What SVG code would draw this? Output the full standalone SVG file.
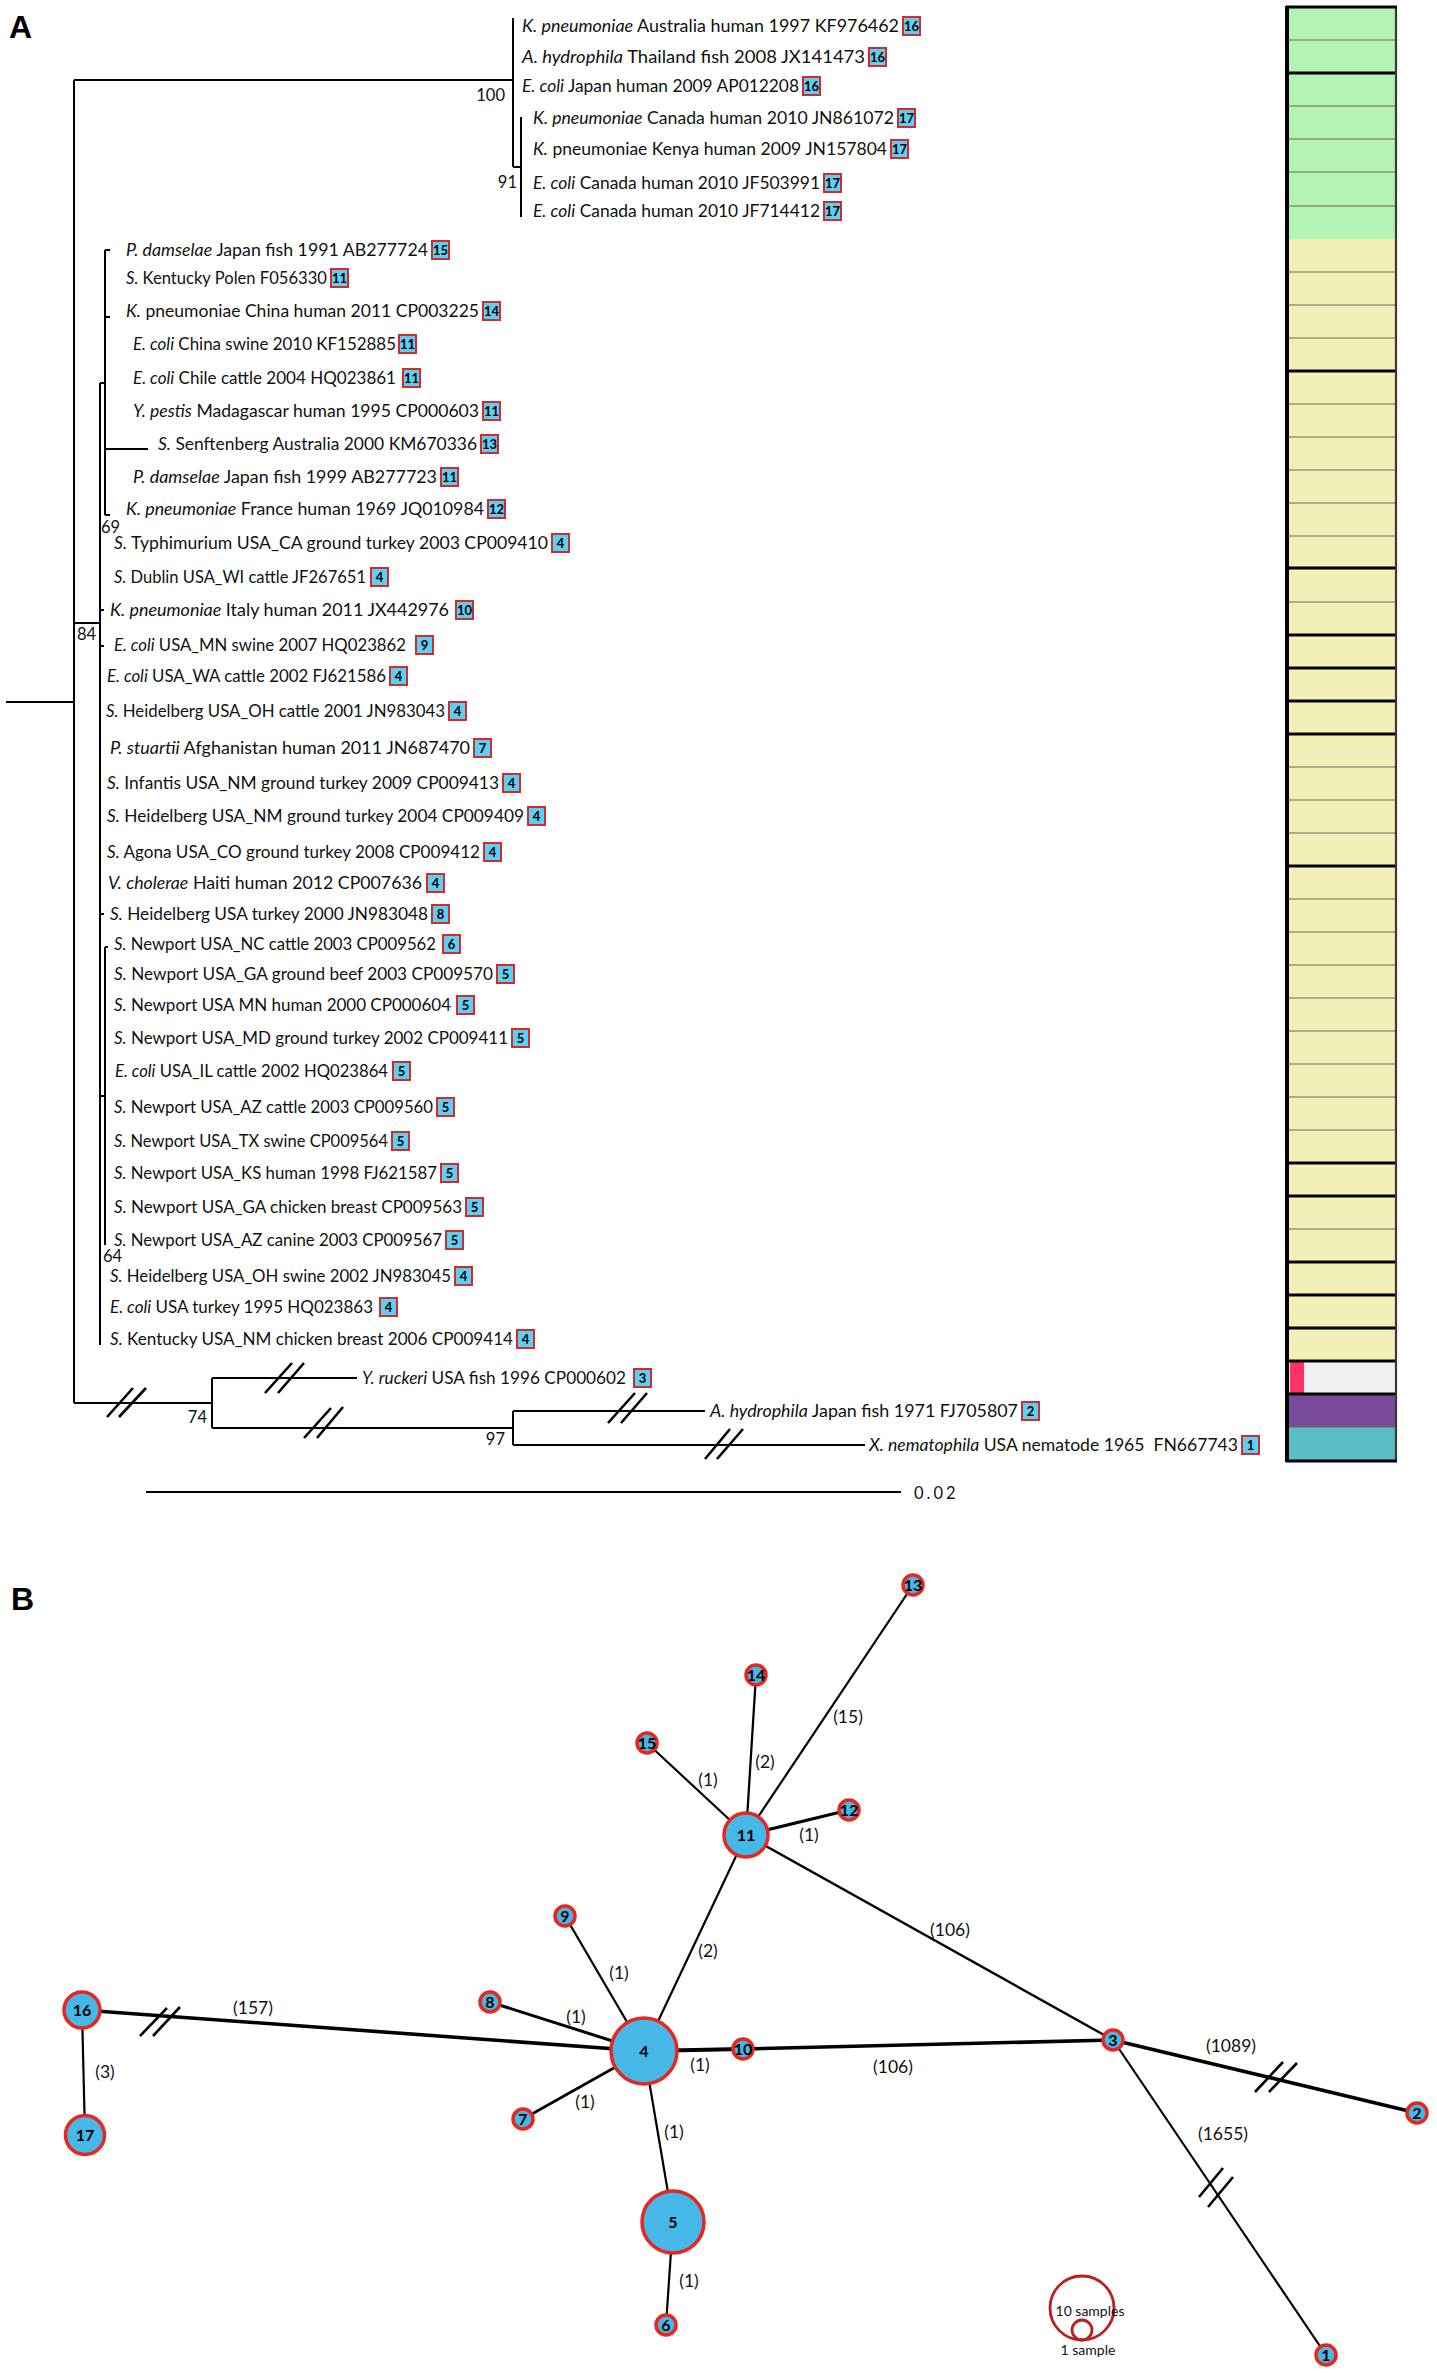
<svg xmlns="http://www.w3.org/2000/svg" width="1437" height="2374" viewBox="0 0 1437 2374">
<style>
.lab{font-family:Lato,"Liberation Sans",sans-serif;font-size:17.5px;fill:#111}
.it{font-style:italic}
.sup{font-family:Lato,"Liberation Sans",sans-serif;font-size:16.5px;fill:#111}
.panel{font-family:"Liberation Sans",Arial,sans-serif;font-size:32px;font-weight:bold;fill:#000}
.box{fill:#5ccff2;stroke:#d42a2a;stroke-width:2}
.bn{font-family:Lato,"Liberation Sans",sans-serif;font-size:13px;font-weight:bold;fill:#000;text-anchor:middle}
.br{stroke:#000;stroke-width:2;fill:none}
.sl{stroke:#000;stroke-width:2.6;fill:none}
.nd{fill:#45b8e8;stroke:#e8261f;stroke-width:3.5}
.nl{font-family:Lato,"Liberation Sans",sans-serif;font-size:16px;font-weight:bold;fill:#000;text-anchor:middle}
.el{font-family:Lato,"Liberation Sans",sans-serif;font-size:17.5px;fill:#111;text-anchor:middle}
.e{stroke:#000;fill:none}
.sep{stroke:#6b6b50;stroke-width:1.2}
.sepk{stroke:#000;stroke-width:3}
</style>

<!-- Panel labels -->
<text class="panel" x="9" y="38">A</text>
<text class="panel" x="11" y="1610">B</text>

<!-- Tree branches -->
<g id="tree-connectors">
  <path class="br" d="M6,702 H74 M74,80 V1403 M74,80 H513 M513,18 V167 M513,167 H521 M521,117 V217"/>
  <path class="br" d="M74,623 H100 M100,383 V1345 M100,383 H105 M105,250 V515 M105,250 H110 M105,317 H110 M105,449 H148 M105,515 H110"/>
  <path class="br" d="M100,610 H104 M100,646 H104 M100,914 H104 M100,1096 H105 M105,947 V1245 M105,947 H108"/>
  <path class="br" d="M74,1403 H212 M212,1378 V1428 M212,1378 H357 M212,1428 H513 M513,1411 V1445 M513,1411 H705 M513,1445 H865"/>
  <!-- break marks -->
  <path class="sl" d="M107,1417 L133,1388 M119,1417 L146,1388"/>
  <path class="sl" d="M265,1393 L292,1363 M278,1393 L304,1363"/>
  <path class="sl" d="M304,1438 L331,1408 M317,1438 L343,1407"/>
  <path class="sl" d="M608,1423 L635,1393 M621,1423 L647,1393"/>
  <path class="sl" d="M705,1459 L730,1429 M717,1459 L743,1429"/>
  <!-- scale bar -->
  <path class="br" d="M146,1492 H901"/>
</g>

<!-- support values -->
<g id="support">
  <text class="sup" x="505" y="101" text-anchor="end">100</text>
  <text class="sup" x="517" y="188" text-anchor="end">91</text>
  <text class="sup" x="77" y="640">84</text>
  <text class="sup" x="101" y="533">69</text>
  <text class="sup" x="103" y="1262">64</text>
  <text class="sup" x="207" y="1423" text-anchor="end">74</text>
  <text class="sup" x="505" y="1445" text-anchor="end">97</text>
  <text class="sup" x="914" y="1499" letter-spacing="3">0.02</text>
</g>

<!-- Leaves -->
<g id="leaves">
<g id="leaf-1"><text class="lab" x="522" y="32" textLength="377" lengthAdjust="spacingAndGlyphs"><tspan class="it">K. pneumoniae</tspan> Australia human 1997 KF976462</text><rect class="box" x="903" y="17" width="17" height="18"/><text class="bn" x="911.5" y="30.5">16</text></g>
<g id="leaf-2"><text class="lab" x="522" y="63" textLength="343" lengthAdjust="spacingAndGlyphs"><tspan class="it">A. hydrophila</tspan> Thailand fish 2008 JX141473</text><rect class="box" x="869" y="48" width="17" height="18"/><text class="bn" x="877.5" y="61.5">16</text></g>
<g id="leaf-3"><text class="lab" x="522" y="92" textLength="277" lengthAdjust="spacingAndGlyphs"><tspan class="it">E. coli</tspan> Japan human 2009 AP012208</text><rect class="box" x="803" y="77" width="17" height="18"/><text class="bn" x="811.5" y="90.5">16</text></g>
<g id="leaf-4"><text class="lab" x="533" y="124" textLength="361" lengthAdjust="spacingAndGlyphs"><tspan class="it">K. pneumoniae</tspan> Canada human 2010 JN861072</text><rect class="box" x="898" y="109" width="17" height="18"/><text class="bn" x="906.5" y="122.5">17</text></g>
<g id="leaf-5"><text class="lab" x="533" y="155" textLength="354" lengthAdjust="spacingAndGlyphs"><tspan class="it">K.</tspan> pneumoniae Kenya human 2009 JN157804</text><rect class="box" x="891" y="140" width="17" height="18"/><text class="bn" x="899.5" y="153.5">17</text></g>
<g id="leaf-6"><text class="lab" x="533" y="189" textLength="287" lengthAdjust="spacingAndGlyphs"><tspan class="it">E. coli</tspan> Canada human 2010 JF503991</text><rect class="box" x="824" y="174" width="17" height="18"/><text class="bn" x="832.5" y="187.5">17</text></g>
<g id="leaf-7"><text class="lab" x="533" y="217" textLength="287" lengthAdjust="spacingAndGlyphs"><tspan class="it">E. coli</tspan> Canada human 2010 JF714412</text><rect class="box" x="824" y="202" width="17" height="18"/><text class="bn" x="832.5" y="215.5">17</text></g>
<g id="leaf-8"><text class="lab" x="126" y="256" textLength="302" lengthAdjust="spacingAndGlyphs"><tspan class="it">P. damselae</tspan> Japan fish 1991 AB277724</text><rect class="box" x="432" y="241" width="17" height="18"/><text class="bn" x="440.5" y="254.5">15</text></g>
<g id="leaf-9"><text class="lab" x="126" y="284" textLength="201" lengthAdjust="spacingAndGlyphs"><tspan class="it">S.</tspan> Kentucky Polen F056330</text><rect class="box" x="331" y="269" width="17" height="18"/><text class="bn" x="339.5" y="282.5">11</text></g>
<g id="leaf-10"><text class="lab" x="126" y="317" textLength="353" lengthAdjust="spacingAndGlyphs"><tspan class="it">K.</tspan> pneumoniae China human 2011 CP003225</text><rect class="box" x="483" y="302" width="17" height="18"/><text class="bn" x="491.5" y="315.5">14</text></g>
<g id="leaf-11"><text class="lab" x="133" y="350" textLength="263" lengthAdjust="spacingAndGlyphs"><tspan class="it">E. coli</tspan> China swine 2010 KF152885</text><rect class="box" x="399" y="335" width="17" height="18"/><text class="bn" x="407.5" y="348.5">11</text></g>
<g id="leaf-12"><text class="lab" x="133" y="384" textLength="263" lengthAdjust="spacingAndGlyphs"><tspan class="it">E. coli</tspan> Chile cattle 2004 HQ023861</text><rect class="box" x="403" y="369" width="17" height="18"/><text class="bn" x="411.5" y="382.5">11</text></g>
<g id="leaf-13"><text class="lab" x="133" y="417" textLength="346" lengthAdjust="spacingAndGlyphs"><tspan class="it">Y. pestis</tspan> Madagascar human 1995 CP000603</text><rect class="box" x="483" y="402" width="17" height="18"/><text class="bn" x="491.5" y="415.5">11</text></g>
<g id="leaf-14"><text class="lab" x="158" y="450" textLength="319" lengthAdjust="spacingAndGlyphs"><tspan class="it">S.</tspan> Senftenberg Australia 2000 KM670336</text><rect class="box" x="481" y="435" width="17" height="18"/><text class="bn" x="489.5" y="448.5">13</text></g>
<g id="leaf-15"><text class="lab" x="133" y="483" textLength="304" lengthAdjust="spacingAndGlyphs"><tspan class="it">P. damselae</tspan> Japan fish 1999 AB277723</text><rect class="box" x="441" y="468" width="17" height="18"/><text class="bn" x="449.5" y="481.5">11</text></g>
<g id="leaf-16"><text class="lab" x="126" y="515" textLength="358" lengthAdjust="spacingAndGlyphs"><tspan class="it">K. pneumoniae</tspan> France human 1969 JQ010984</text><rect class="box" x="488" y="500" width="17" height="18"/><text class="bn" x="496.5" y="513.5">12</text></g>
<g id="leaf-17"><text class="lab" x="114" y="549" textLength="434" lengthAdjust="spacingAndGlyphs"><tspan class="it">S.</tspan> Typhimurium USA_CA ground turkey 2003 CP009410</text><rect class="box" x="552" y="534" width="17" height="18"/><text class="bn" x="560.5" y="547.5">4</text></g>
<g id="leaf-18"><text class="lab" x="114" y="583" textLength="252" lengthAdjust="spacingAndGlyphs"><tspan class="it">S.</tspan> Dublin USA_WI cattle JF267651</text><rect class="box" x="371" y="568" width="17" height="18"/><text class="bn" x="379.5" y="581.5">4</text></g>
<g id="leaf-19"><text class="lab" x="110" y="616" textLength="339" lengthAdjust="spacingAndGlyphs"><tspan class="it">K. pneumoniae</tspan> Italy human 2011 JX442976</text><rect class="box" x="456" y="601" width="17" height="18"/><text class="bn" x="464.5" y="614.5">10</text></g>
<g id="leaf-20"><text class="lab" x="114" y="651" textLength="292" lengthAdjust="spacingAndGlyphs"><tspan class="it">E. coli</tspan> USA_MN swine 2007 HQ023862</text><rect class="box" x="416" y="636" width="17" height="18"/><text class="bn" x="424.5" y="649.5">9</text></g>
<g id="leaf-21"><text class="lab" x="107" y="682" textLength="279" lengthAdjust="spacingAndGlyphs"><tspan class="it">E. coli</tspan> USA_WA cattle 2002 FJ621586</text><rect class="box" x="390" y="667" width="17" height="18"/><text class="bn" x="398.5" y="680.5">4</text></g>
<g id="leaf-22"><text class="lab" x="106" y="717" textLength="339" lengthAdjust="spacingAndGlyphs"><tspan class="it">S.</tspan> Heidelberg USA_OH cattle 2001 JN983043</text><rect class="box" x="449" y="702" width="17" height="18"/><text class="bn" x="457.5" y="715.5">4</text></g>
<g id="leaf-23"><text class="lab" x="110" y="754" textLength="360" lengthAdjust="spacingAndGlyphs"><tspan class="it">P. stuartii</tspan> Afghanistan human 2011 JN687470</text><rect class="box" x="474" y="739" width="17" height="18"/><text class="bn" x="482.5" y="752.5">7</text></g>
<g id="leaf-24"><text class="lab" x="107" y="789" textLength="392" lengthAdjust="spacingAndGlyphs"><tspan class="it">S.</tspan> Infantis USA_NM ground turkey 2009 CP009413</text><rect class="box" x="503" y="774" width="17" height="18"/><text class="bn" x="511.5" y="787.5">4</text></g>
<g id="leaf-25"><text class="lab" x="107" y="822" textLength="417" lengthAdjust="spacingAndGlyphs"><tspan class="it">S.</tspan> Heidelberg USA_NM ground turkey 2004 CP009409</text><rect class="box" x="528" y="807" width="17" height="18"/><text class="bn" x="536.5" y="820.5">4</text></g>
<g id="leaf-26"><text class="lab" x="107" y="858" textLength="373" lengthAdjust="spacingAndGlyphs"><tspan class="it">S.</tspan> Agona USA_CO ground turkey 2008 CP009412</text><rect class="box" x="484" y="843" width="17" height="18"/><text class="bn" x="492.5" y="856.5">4</text></g>
<g id="leaf-27"><text class="lab" x="108" y="889" textLength="314" lengthAdjust="spacingAndGlyphs"><tspan class="it">V. cholerae</tspan> Haiti human 2012 CP007636</text><rect class="box" x="427" y="874" width="17" height="18"/><text class="bn" x="435.5" y="887.5">4</text></g>
<g id="leaf-28"><text class="lab" x="110" y="920" textLength="318" lengthAdjust="spacingAndGlyphs"><tspan class="it">S.</tspan> Heidelberg USA turkey 2000 JN983048</text><rect class="box" x="432" y="905" width="17" height="18"/><text class="bn" x="440.5" y="918.5">8</text></g>
<g id="leaf-29"><text class="lab" x="114" y="950" textLength="322" lengthAdjust="spacingAndGlyphs"><tspan class="it">S.</tspan> Newport USA_NC cattle 2003 CP009562</text><rect class="box" x="443" y="935" width="17" height="18"/><text class="bn" x="451.5" y="948.5">6</text></g>
<g id="leaf-30"><text class="lab" x="114" y="980" textLength="379" lengthAdjust="spacingAndGlyphs"><tspan class="it">S.</tspan> Newport USA_GA ground beef 2003 CP009570</text><rect class="box" x="497" y="965" width="17" height="18"/><text class="bn" x="505.5" y="978.5">5</text></g>
<g id="leaf-31"><text class="lab" x="114" y="1011" textLength="337" lengthAdjust="spacingAndGlyphs"><tspan class="it">S.</tspan> Newport USA MN human 2000 CP000604</text><rect class="box" x="457" y="996" width="17" height="18"/><text class="bn" x="465.5" y="1009.5">5</text></g>
<g id="leaf-32"><text class="lab" x="114" y="1044" textLength="394" lengthAdjust="spacingAndGlyphs"><tspan class="it">S.</tspan> Newport USA_MD ground turkey 2002 CP009411</text><rect class="box" x="512" y="1029" width="17" height="18"/><text class="bn" x="520.5" y="1042.5">5</text></g>
<g id="leaf-33"><text class="lab" x="115" y="1077" textLength="273" lengthAdjust="spacingAndGlyphs"><tspan class="it">E. coli</tspan> USA_IL cattle 2002 HQ023864</text><rect class="box" x="393" y="1062" width="17" height="18"/><text class="bn" x="401.5" y="1075.5">5</text></g>
<g id="leaf-34"><text class="lab" x="114" y="1113" textLength="319" lengthAdjust="spacingAndGlyphs"><tspan class="it">S.</tspan> Newport USA_AZ cattle 2003 CP009560</text><rect class="box" x="437" y="1098" width="17" height="18"/><text class="bn" x="445.5" y="1111.5">5</text></g>
<g id="leaf-35"><text class="lab" x="114" y="1147" textLength="274" lengthAdjust="spacingAndGlyphs"><tspan class="it">S.</tspan> Newport USA_TX swine CP009564</text><rect class="box" x="392" y="1132" width="17" height="18"/><text class="bn" x="400.5" y="1145.5">5</text></g>
<g id="leaf-36"><text class="lab" x="114" y="1179" textLength="323" lengthAdjust="spacingAndGlyphs"><tspan class="it">S.</tspan> Newport USA_KS human 1998 FJ621587</text><rect class="box" x="441" y="1164" width="17" height="18"/><text class="bn" x="449.5" y="1177.5">5</text></g>
<g id="leaf-37"><text class="lab" x="114" y="1213" textLength="348" lengthAdjust="spacingAndGlyphs"><tspan class="it">S.</tspan> Newport USA_GA chicken breast CP009563</text><rect class="box" x="466" y="1198" width="17" height="18"/><text class="bn" x="474.5" y="1211.5">5</text></g>
<g id="leaf-38"><text class="lab" x="114" y="1246" textLength="328" lengthAdjust="spacingAndGlyphs"><tspan class="it">S.</tspan> Newport USA_AZ canine 2003 CP009567</text><rect class="box" x="446" y="1231" width="17" height="18"/><text class="bn" x="454.5" y="1244.5">5</text></g>
<g id="leaf-39"><text class="lab" x="110" y="1282" textLength="341" lengthAdjust="spacingAndGlyphs"><tspan class="it">S.</tspan> Heidelberg USA_OH swine 2002 JN983045</text><rect class="box" x="455" y="1267" width="17" height="18"/><text class="bn" x="463.5" y="1280.5">4</text></g>
<g id="leaf-40"><text class="lab" x="110" y="1313" textLength="263" lengthAdjust="spacingAndGlyphs"><tspan class="it">E. coli</tspan> USA turkey 1995 HQ023863</text><rect class="box" x="380" y="1298" width="17" height="18"/><text class="bn" x="388.5" y="1311.5">4</text></g>
<g id="leaf-41"><text class="lab" x="110" y="1345" textLength="403" lengthAdjust="spacingAndGlyphs"><tspan class="it">S.</tspan> Kentucky USA_NM chicken breast 2006 CP009414</text><rect class="box" x="517" y="1330" width="17" height="18"/><text class="bn" x="525.5" y="1343.5">4</text></g>
<g id="leaf-42"><text class="lab" x="362" y="1384" textLength="264" lengthAdjust="spacingAndGlyphs"><tspan class="it">Y. ruckeri</tspan> USA fish 1996 CP000602</text><rect class="box" x="634" y="1369" width="17" height="18"/><text class="bn" x="642.5" y="1382.5">3</text></g>
<g id="leaf-43"><text class="lab" x="710" y="1417" textLength="308" lengthAdjust="spacingAndGlyphs"><tspan class="it">A. hydrophila</tspan> Japan fish 1971 FJ705807</text><rect class="box" x="1022" y="1402" width="17" height="18"/><text class="bn" x="1030.5" y="1415.5">2</text></g>
<g id="leaf-44"><text class="lab" x="869" y="1451" textLength="369" lengthAdjust="spacingAndGlyphs"><tspan class="it">X. nematophila</tspan> USA nematode 1965&#160; FN667743</text><rect class="box" x="1242" y="1436" width="17" height="18"/><text class="bn" x="1250.5" y="1449.5">1</text></g>
</g>

<!-- Colour bar -->
<g id="colour-bar">
  <rect x="1288" y="7" width="108" height="232" fill="#b3f4b4"/>
  <rect x="1288" y="239" width="108" height="1122" fill="#f2f0b6"/>
  <rect x="1288" y="1361" width="108" height="33" fill="#f0f0f0"/>
  <rect x="1290" y="1362" width="14" height="31" fill="#ff3366"/>
  <rect x="1288" y="1394" width="108" height="33" fill="#7a4a9b"/>
  <rect x="1288" y="1427" width="108" height="34" fill="#5abcc4"/>
  <path class="sep" d="M1288,40 H1396 M1288,106 H1396 M1288,139 H1396 M1288,172 H1396 M1288,206 H1396 M1288,272 H1396 M1288,305 H1396 M1288,338 H1396 M1288,404 H1396 M1288,437 H1396 M1288,470 H1396 M1288,503 H1396 M1288,536 H1396 M1288,602 H1396 M1288,767 H1396 M1288,800 H1396 M1288,833 H1396 M1288,899 H1396 M1288,932 H1396 M1288,965 H1396 M1288,998 H1396 M1288,1031 H1396 M1288,1064 H1396 M1288,1097 H1396 M1288,1130 H1396 M1288,1229 H1396 M1288,1427 H1396"/>
  <path class="sepk" d="M1288,73 H1396 M1288,371 H1396 M1288,568 H1396 M1288,635 H1396 M1288,668 H1396 M1288,701 H1396 M1288,734 H1396 M1288,866 H1396 M1288,1163 H1396 M1288,1196 H1396 M1288,1262 H1396 M1288,1295 H1396 M1288,1328 H1396 M1288,1361 H1396 M1288,1394 H1396"/>
  <path d="M1396,8 V1461" stroke="#3a3a30" stroke-width="2.2"/>
  <path d="M1287,6 V1462" stroke="#000" stroke-width="4"/>
  <path d="M1286,7 H1397 M1286,1461 H1397" stroke="#000" stroke-width="3"/>
</g>

<!-- Panel B connectors -->
<g id="network-connectors">
  <path class="e" stroke-width="2.2" d="M746,1835 L913,1585"/>
  <path class="e" stroke-width="2.2" d="M746,1835 L756,1675"/>
  <path class="e" stroke-width="2.2" d="M746,1835 L647,1743"/>
  <path class="e" stroke-width="3" d="M746,1835 L849,1810"/>
  <path class="e" stroke-width="2.2" d="M746,1835 L644,2051"/>
  <path class="e" stroke-width="2.4" d="M746,1835 L1113,2040"/>
  <path class="e" stroke-width="2.2" d="M644,2051 L565,1916"/>
  <path class="e" stroke-width="3" d="M644,2051 L490,2002"/>
  <path class="e" stroke-width="2.6" d="M644,2051 L523,2119"/>
  <path class="e" stroke-width="2.2" d="M644,2051 L673,2222"/>
  <path class="e" stroke-width="2.2" d="M673,2222 L666,2325"/>
  <path class="e" stroke-width="3.6" d="M644,2051 L82,2010"/>
  <path class="e" stroke-width="2.2" d="M82,2010 L85,2135"/>
  <path class="e" stroke-width="4.2" d="M644,2051 L743,2049"/>
  <path class="e" stroke-width="3.6" d="M743,2049 L1113,2040"/>
  <path class="e" stroke-width="3.6" d="M1113,2040 L1417,2113"/>
  <path class="e" stroke-width="2.2" d="M1113,2040 L1326,2355"/>
  <path class="sl" d="M140,2036 L167,2008 M153,2036 L180,2007"/>
  <path class="sl" d="M1255,2092 L1283,2062 M1269,2092 L1297,2063"/>
  <path class="sl" d="M1199,2197 L1223,2168 M1208,2207 L1233,2177"/>
  <text class="el" x="848" y="1723">(15)</text>
  <text class="el" x="765" y="1768">(2)</text>
  <text class="el" x="708" y="1786">(1)</text>
  <text class="el" x="809" y="1841">(1)</text>
  <text class="el" x="950" y="1936">(106)</text>
  <text class="el" x="708" y="1957">(2)</text>
  <text class="el" x="619" y="1979">(1)</text>
  <text class="el" x="576" y="2023">(1)</text>
  <text class="el" x="253" y="2014">(157)</text>
  <text class="el" x="700" y="2071">(1)</text>
  <text class="el" x="893" y="2073">(106)</text>
  <text class="el" x="105" y="2078">(3)</text>
  <text class="el" x="585" y="2108">(1)</text>
  <text class="el" x="674" y="2138">(1)</text>
  <text class="el" x="689" y="2287">(1)</text>
  <text class="el" x="1231" y="2052">(1089)</text>
  <text class="el" x="1223" y="2140">(1655)</text>
</g>

<!-- Panel B nodes -->
<g id="node-13"><circle class="nd" cx="913" cy="1585" r="10"/><text class="nl" x="913" y="1591">13</text></g>
<g id="node-14"><circle class="nd" cx="756" cy="1675" r="10"/><text class="nl" x="756" y="1681">14</text></g>
<g id="node-15"><circle class="nd" cx="647" cy="1743" r="10"/><text class="nl" x="647" y="1749">15</text></g>
<g id="node-12"><circle class="nd" cx="849" cy="1810" r="10"/><text class="nl" x="849" y="1816">12</text></g>
<g id="node-11"><circle class="nd" cx="746" cy="1835" r="22"/><text class="nl" x="746" y="1841">11</text></g>
<g id="node-9"><circle class="nd" cx="565" cy="1916" r="10"/><text class="nl" x="565" y="1922">9</text></g>
<g id="node-8"><circle class="nd" cx="490" cy="2002" r="10"/><text class="nl" x="490" y="2008">8</text></g>
<g id="node-4"><circle class="nd" cx="644" cy="2051" r="33"/><text class="nl" x="644" y="2057">4</text></g>
<g id="node-10"><circle class="nd" cx="743" cy="2049" r="10"/><text class="nl" x="743" y="2055">10</text></g>
<g id="node-7"><circle class="nd" cx="523" cy="2119" r="10"/><text class="nl" x="523" y="2125">7</text></g>
<g id="node-16"><circle class="nd" cx="82" cy="2010" r="18"/><text class="nl" x="82" y="2016">16</text></g>
<g id="node-17"><circle class="nd" cx="85" cy="2135" r="19.5"/><text class="nl" x="85" y="2141">17</text></g>
<g id="node-5"><circle class="nd" cx="673" cy="2222" r="31"/><text class="nl" x="673" y="2228">5</text></g>
<g id="node-6"><circle class="nd" cx="666" cy="2325" r="10"/><text class="nl" x="666" y="2331">6</text></g>
<g id="node-3"><circle class="nd" cx="1113" cy="2040" r="10"/><text class="nl" x="1113" y="2046">3</text></g>
<g id="node-2"><circle class="nd" cx="1417" cy="2113" r="10"/><text class="nl" x="1417" y="2119">2</text></g>
<g id="node-1"><circle class="nd" cx="1326" cy="2355" r="10"/><text class="nl" x="1326" y="2361">1</text></g>

<!-- Legend -->
<g id="legend">
  <circle cx="1082" cy="2308" r="32" fill="none" stroke="#b8201e" stroke-width="2.8"/>
  <circle cx="1082" cy="2330" r="10" fill="none" stroke="#b8201e" stroke-width="2.8"/>
  <text x="1090" y="2316" font-family="Lato,'Liberation Sans',sans-serif" font-size="14" text-anchor="middle" fill="#111">10 samples</text>
  <text x="1088" y="2355" font-family="Lato,'Liberation Sans',sans-serif" font-size="14" text-anchor="middle" fill="#111">1 sample</text>
</g>
</svg>
